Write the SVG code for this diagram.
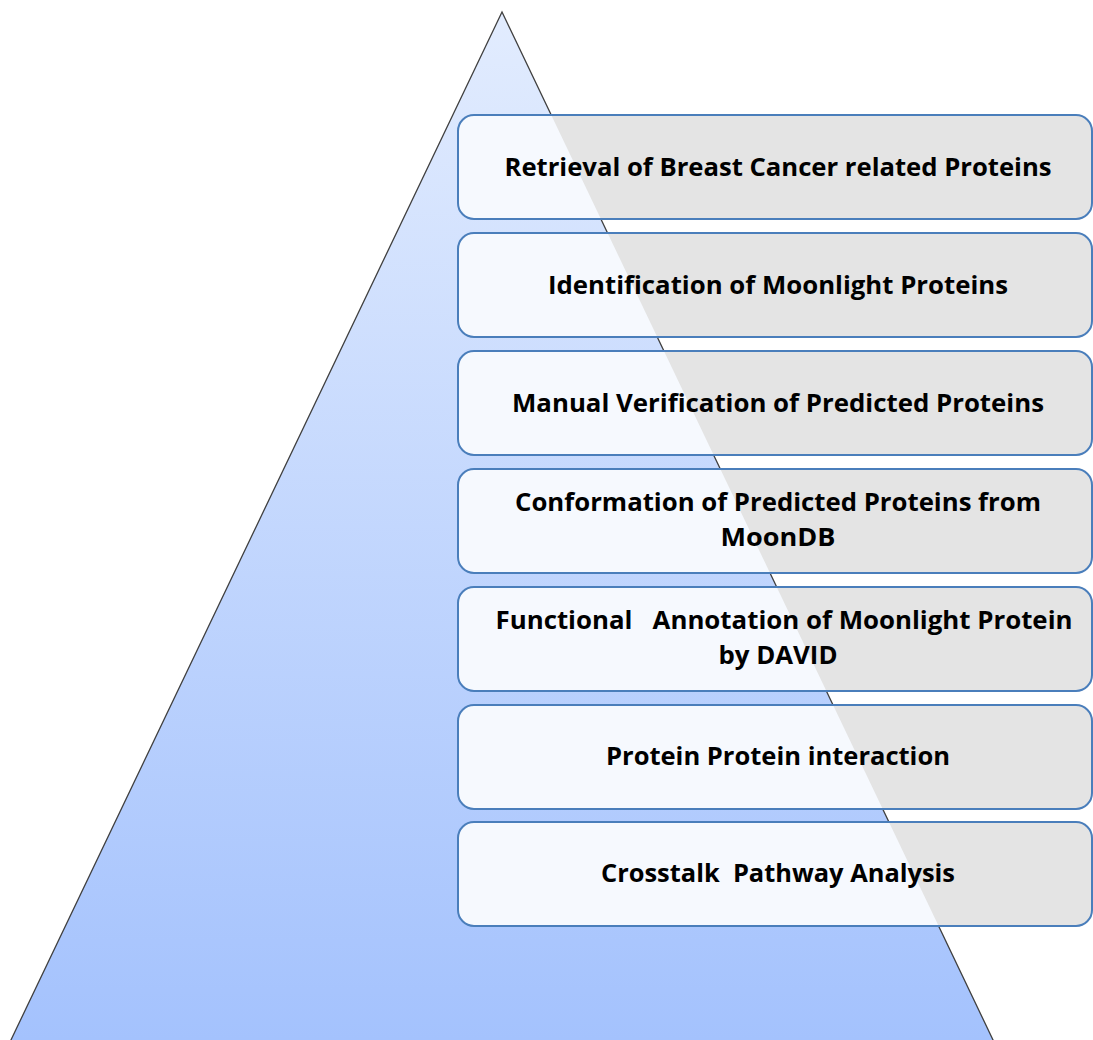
<svg xmlns="http://www.w3.org/2000/svg" width="1093" height="1040" viewBox="0 0 1093 1040">
<style>
.bg{fill:#e4e4e4;stroke:none}
.in{fill:#f6f9fe;stroke:none}
.bd{fill:none;stroke:#4a7ebb;stroke-width:2}
.t{font-family:"Open Sans","Liberation Sans",sans-serif;font-weight:bold;font-size:25px;fill:#000;text-anchor:middle;white-space:pre}
</style>
<defs>
<linearGradient id="tg" gradientUnits="userSpaceOnUse" x1="0" y1="12" x2="0" y2="1040">
<stop offset="0" stop-color="#e2ecfe"/>
<stop offset="1" stop-color="#a4c2fd"/>
</linearGradient>
<clipPath id="tc"><polygon points="502,12 10,1042 994,1042"/></clipPath>
</defs>
<g id="pyramid">
<polygon points="502,12 10,1042 994,1042" fill="url(#tg)" stroke="#404040" stroke-width="1.3"/>
</g>
<g id="connectors"></g>
<g id="step1">
<rect x="458" y="115" width="634" height="104" rx="16" class="bg"/>
<rect x="458" y="115" width="634" height="104" rx="16" class="in" clip-path="url(#tc)"/>
<rect x="458" y="115" width="634" height="104" rx="16" class="bd"/>
<text class="t" x="778" y="176" textLength="547" lengthAdjust="spacingAndGlyphs">Retrieval of Breast Cancer related Proteins</text>
</g>
<g id="step2">
<rect x="458" y="233" width="634" height="104" rx="16" class="bg"/>
<rect x="458" y="233" width="634" height="104" rx="16" class="in" clip-path="url(#tc)"/>
<rect x="458" y="233" width="634" height="104" rx="16" class="bd"/>
<text class="t" x="778" y="294" textLength="460" lengthAdjust="spacingAndGlyphs">Identification of Moonlight Proteins</text>
</g>
<g id="step3">
<rect x="458" y="351" width="634" height="104" rx="16" class="bg"/>
<rect x="458" y="351" width="634" height="104" rx="16" class="in" clip-path="url(#tc)"/>
<rect x="458" y="351" width="634" height="104" rx="16" class="bd"/>
<text class="t" x="778" y="412" textLength="532" lengthAdjust="spacingAndGlyphs">Manual Verification of Predicted Proteins</text>
</g>
<g id="step4">
<rect x="458" y="469" width="634" height="104" rx="16" class="bg"/>
<rect x="458" y="469" width="634" height="104" rx="16" class="in" clip-path="url(#tc)"/>
<rect x="458" y="469" width="634" height="104" rx="16" class="bd"/>
<text class="t" x="778" y="511" textLength="526" lengthAdjust="spacingAndGlyphs">Conformation of Predicted Proteins from</text>
<text class="t" x="778" y="546" textLength="115" lengthAdjust="spacingAndGlyphs">MoonDB</text>
</g>
<g id="step5">
<rect x="458" y="587" width="634" height="104" rx="16" class="bg"/>
<rect x="458" y="587" width="634" height="104" rx="16" class="in" clip-path="url(#tc)"/>
<rect x="458" y="587" width="634" height="104" rx="16" class="bd"/>
<text class="t" x="784" y="629" textLength="577" lengthAdjust="spacingAndGlyphs">Functional   Annotation of Moonlight Protein</text>
<text class="t" x="778" y="664" textLength="119" lengthAdjust="spacingAndGlyphs">by DAVID</text>
</g>
<g id="step6">
<rect x="458" y="705" width="634" height="104" rx="16" class="bg"/>
<rect x="458" y="705" width="634" height="104" rx="16" class="in" clip-path="url(#tc)"/>
<rect x="458" y="705" width="634" height="104" rx="16" class="bd"/>
<text class="t" x="778" y="765" textLength="344" lengthAdjust="spacingAndGlyphs">Protein Protein interaction</text>
</g>
<g id="step7">
<rect x="458" y="822" width="634" height="104" rx="16" class="bg"/>
<rect x="458" y="822" width="634" height="104" rx="16" class="in" clip-path="url(#tc)"/>
<rect x="458" y="822" width="634" height="104" rx="16" class="bd"/>
<text class="t" x="778" y="882" textLength="354" lengthAdjust="spacingAndGlyphs">Crosstalk  Pathway Analysis</text>
</g>
</svg>
